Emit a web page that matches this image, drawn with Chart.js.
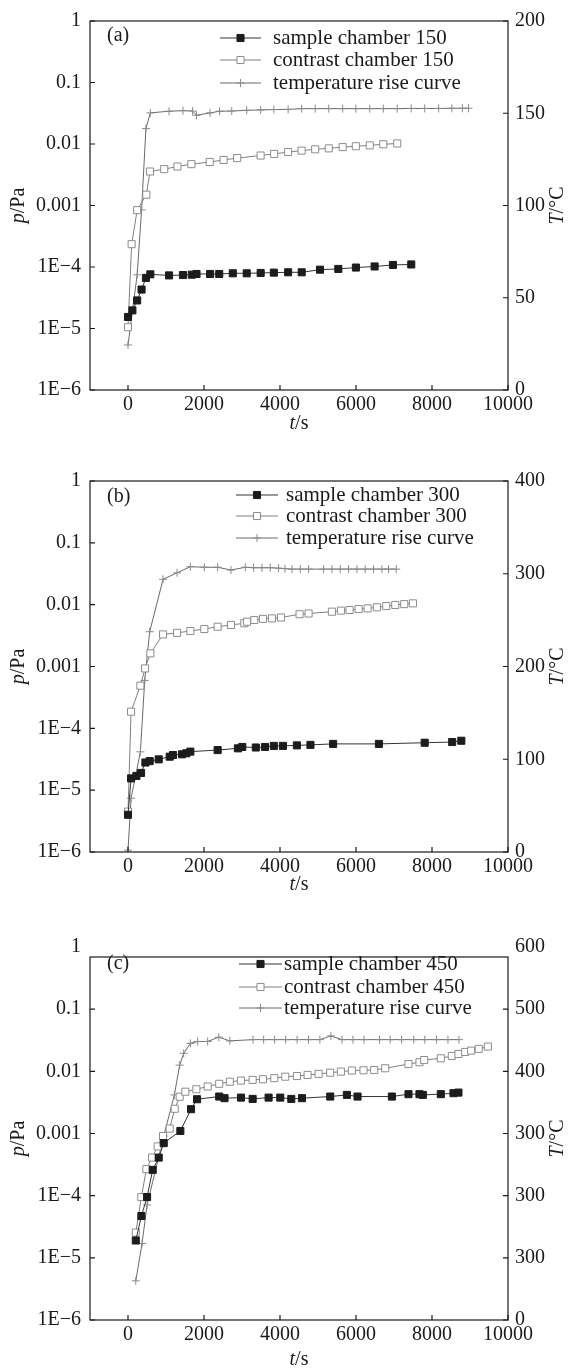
<!DOCTYPE html>
<html>
<head>
<meta charset="utf-8">
<script src="https://cdn.jsdelivr.net/npm/chart.js@4.4.1/dist/chart.umd.min.js"></script>
<style>
  body { margin: 0; background: #fff; }
  #wrap { position: relative; width: 572px; height: 1370px; }
  canvas { position: absolute; left: 0; }
</style>
</head>
<body>
<div id="wrap">
  <canvas id="chartA" width="572" height="440" style="top:0px"></canvas>
  <canvas id="chartB" width="572" height="460" style="top:440px"></canvas>
  <canvas id="chartC" width="572" height="470" style="top:900px"></canvas>
</div>
<script>
// shared axes
const timeTicks = [0, 2000, 4000, 6000, 8000, 10000];
const pressureTicks = [1e-6, 1e-5, 1e-4, 1e-3, 1e-2, 1e-1, 1];
const pressureLabels = ['1E\u22126', '1E\u22125', '1E\u22124', '0.001', '0.01', '0.1', '1'];

// (a) 150
const aNames = ['sample chamber 150', 'contrast chamber 150', 'temperature rise curve'];
const aTempTicks = [0, 50, 100, 150, 200];
const aTempLabels = ['0', '50', '100', '150', '200'];
const aSampleT = [0, 116, 241, 357, 472, 588, 1080, 1446, 1678, 1803, 2160, 2401, 2758, 3124, 3491, 3838, 4214, 4571, 5053, 5535, 5998, 6490, 6972, 7454];
const aSampleP = [1.54e-5, 1.97e-5, 2.86e-5, 4.3e-5, 6.65e-5, 7.6e-5, 7.3e-5, 7.4e-5, 7.5e-5, 7.7e-5, 7.7e-5, 7.7e-5, 7.9e-5, 7.9e-5, 8.0e-5, 8.1e-5, 8.2e-5, 8.2e-5, 9.05e-5, 9.3e-5, 9.8e-5, 1.02e-4, 1.08e-4, 1.1e-4];
const aContrastT = [0, 96, 241, 482, 578, 954, 1301, 1668, 2150, 2516, 2873, 3490, 3846, 4213, 4569, 4926, 5283, 5649, 5996, 6362, 6719, 7085];
const aContrastP = [1.05e-5, 2.35e-4, 8.4e-4, 1.5e-3, 3.57e-3, 3.9e-3, 4.3e-3, 4.7e-3, 5.1e-3, 5.5e-3, 5.9e-3, 6.5e-3, 6.9e-3, 7.4e-3, 7.8e-3, 8.2e-3, 8.5e-3, 8.9e-3, 9.2e-3, 9.5e-3, 9.9e-3, 1.02e-2];
const aTempT = [0, 241, 357, 472, 588, 1080, 1446, 1700, 1803, 2160, 2410, 2730, 3124, 3491, 3838, 4214, 4571, 4926, 5283, 5649, 5996, 6362, 6719, 7085, 7452, 7808, 8175, 8522, 8800, 8960];
const aTempC = [24.4, 62.4, 97.6, 141.7, 150.2, 151.1, 151.4, 151.2, 148.9, 150.2, 151.1, 151.2, 151.6, 151.8, 152, 152.1, 152.5, 152.5, 152.5, 152.5, 152.5, 152.5, 152.5, 152.5, 152.6, 152.6, 152.6, 152.7, 152.7, 152.7];

// (b) 300
const bNames = ['sample chamber 300', 'contrast chamber 300', 'temperature rise curve'];
const bTempTicks = [0, 100, 200, 300, 400];
const bTempLabels = ['0', '100', '200', '300', '400'];
const bSampleT = [0, 81, 221, 344, 458, 571, 808, 1097, 1185, 1422, 1535, 1641, 2359, 2892, 3008, 3364, 3605, 3837, 4078, 4444, 4801, 5398, 6603, 7808, 8531, 8772];
const bSampleP = [4.0e-6, 1.55e-5, 1.7e-5, 1.9e-5, 2.8e-5, 2.95e-5, 3.15e-5, 3.48e-5, 3.7e-5, 3.8e-5, 3.95e-5, 4.2e-5, 4.45e-5, 4.75e-5, 5.0e-5, 4.9e-5, 5.0e-5, 5.2e-5, 5.2e-5, 5.3e-5, 5.4e-5, 5.6e-5, 5.6e-5, 5.85e-5, 6.0e-5, 6.3e-5];
const bContrastT = [0, 81, 326, 449, 589, 922, 1291, 1641, 2009, 2359, 2710, 3061, 3131, 3324, 3552, 3789, 4026, 4515, 4752, 5366, 5603, 5831, 6068, 6305, 6551, 6796, 7033, 7270, 7498];
const bContrastP = [4.5e-6, 1.86e-4, 4.9e-4, 9.3e-4, 1.63e-3, 3.3e-3, 3.5e-3, 3.75e-3, 4.04e-3, 4.4e-3, 4.7e-3, 5.0e-3, 5.3e-3, 5.65e-3, 5.9e-3, 6.0e-3, 6.2e-3, 7.0e-3, 7.2e-3, 7.7e-3, 8.0e-3, 8.2e-3, 8.5e-3, 8.7e-3, 9.06e-3, 9.5e-3, 9.9e-3, 1.02e-2, 1.05e-2];
const bTempT = [0, 81, 326, 440, 571, 922, 1291, 1641, 2009, 2359, 2710, 3087, 3306, 3525, 3744, 3963, 4130, 4314, 4533, 4752, 5147, 5366, 5585, 5804, 6024, 6243, 6462, 6681, 6856, 7058];
const bTempC = [2, 58, 108, 185, 237.5, 294, 301, 307.6, 307, 307, 304, 307, 306.5, 306.5, 306.5, 306, 305.5, 305, 305, 305, 305, 305, 305, 305, 305, 305, 305, 305, 305, 305];

// (c) 450
const cNames = ['sample chamber 450', 'contrast chamber 450', 'temperature rise curve'];
const cTempTicks = [0, 100, 200, 300, 400, 500, 600];
const cTempLabels = ['0', '300', '300', '300', '400', '500', '600'];
const cSampleT = [205, 352, 502, 650, 808, 940, 1378, 1659, 1817, 2400, 2540, 2973, 3280, 3700, 4007, 4297, 4578, 5322, 5761, 6040, 6944, 7381, 7670, 7759, 8232, 8565, 8696];
const cSampleP = [1.9e-5, 4.7e-5, 9.5e-5, 2.6e-4, 4.1e-4, 7.0e-4, 1.1e-3, 2.46e-3, 3.56e-3, 3.93e-3, 3.7e-3, 3.78e-3, 3.6e-3, 3.78e-3, 3.78e-3, 3.6e-3, 3.7e-3, 3.93e-3, 4.18e-3, 3.93e-3, 3.93e-3, 4.29e-3, 4.29e-3, 4.18e-3, 4.29e-3, 4.45e-3, 4.55e-3];
const cContrastT = [205, 352, 484, 633, 781, 922, 1097, 1229, 1360, 1509, 1799, 2096, 2400, 2680, 2973, 3280, 3552, 3850, 4139, 4446, 4726, 5015, 5322, 5603, 5892, 6198, 6479, 6768, 7381, 7670, 7794, 8232, 8522, 8696, 8872, 9030, 9230, 9470];
const cContrastP = [2.55e-5, 9.5e-5, 2.67e-4, 4.1e-4, 6.2e-4, 9.1e-4, 1.2e-3, 2.5e-3, 3.9e-3, 4.7e-3, 5.15e-3, 5.7e-3, 6.3e-3, 6.8e-3, 7.1e-3, 7.27e-3, 7.46e-3, 7.76e-3, 8.2e-3, 8.4e-3, 8.75e-3, 9.1e-3, 9.5e-3, 9.9e-3, 1.03e-2, 1.04e-2, 1.05e-2, 1.12e-2, 1.31e-2, 1.4e-2, 1.52e-2, 1.62e-2, 1.77e-2, 1.9e-2, 2.05e-2, 2.15e-2, 2.3e-2, 2.5e-2];
const cTempT = [205, 370, 502, 940, 1220, 1360, 1466, 1641, 1833, 2096, 2390, 2680, 3290, 3570, 3860, 4150, 4450, 4750, 5050, 5340, 5630, 5920, 6210, 6620, 6900, 7200, 7520, 7810, 8120, 8420, 8710];
const cTempC = [63, 123, 185, 296, 362, 410, 429, 445, 448, 448, 455, 449, 451, 451, 451, 451, 451, 451, 451, 457, 451, 451, 451, 451, 451, 451, 451, 451, 451, 451, 451];

Chart.defaults.font.family = '"Liberation Serif", "Times New Roman", serif';
Chart.defaults.font.size = 20;
Chart.defaults.color = '#1a1a1a';

const zip = (xs, ys) => xs.map((x, i) => ({ x: x, y: ys[i] }));

function richText(ctx, parts, x, y, angle) {
    ctx.save();
    ctx.translate(x, y);
    ctx.rotate(angle);
    const fonts = parts.map(p => (p[1] ? 'italic ' : '') + '20px "Liberation Serif"');
    const widths = parts.map((p, i) => { ctx.font = fonts[i]; return ctx.measureText(p[0]).width; });
    let cx = -widths.reduce((s, w) => s + w, 0) / 2;
    ctx.textBaseline = 'middle';
    ctx.textAlign = 'left';
    ctx.fillStyle = '#1a1a1a';
    parts.forEach((p, i) => { ctx.font = fonts[i]; ctx.fillText(p[0], cx, 0); cx += widths[i]; });
    ctx.restore();
}

// frame, inward ticks, axis titles, inner legend
const decor = {
    id: 'decor',
    afterDraw(chart, args, o) {
        const { ctx, chartArea: a, scales } = chart;
        const top = a.top + o.frameDrop;
        ctx.save();
        ctx.strokeStyle = '#1a1a1a';
        ctx.lineWidth = 1.2;
        ctx.strokeRect(a.left, top, a.right - a.left, a.bottom - top);
        ctx.beginPath();
        scales.x.ticks.forEach(t => {
            const px = scales.x.getPixelForValue(t.value);
            ctx.moveTo(px, a.bottom); ctx.lineTo(px, a.bottom - 5);
        });
        scales.p.ticks.forEach(t => {
            const py = scales.p.getPixelForValue(t.value);
            if (py < top - 0.5) return;
            ctx.moveTo(a.left, py); ctx.lineTo(a.left + 5, py);
        });
        scales.T.ticks.forEach(t => {
            const py = scales.T.getPixelForValue(t.value);
            if (py < top - 0.5) return;
            ctx.moveTo(a.right, py); ctx.lineTo(a.right - 5, py);
        });
        ctx.stroke();

        const midY = (top + a.bottom) / 2;
        richText(ctx, [['t', true], ['/s', false]], (a.left + a.right) / 2, a.bottom + o.xTitleDy, 0);
        richText(ctx, [['p', true], ['/Pa', false]], 19, midY, -Math.PI / 2);
        richText(ctx, [['T', true], ['/\u00B0C', false]], 558, midY, -Math.PI / 2);

        ctx.font = '20px "Liberation Serif"';
        ctx.textBaseline = 'middle';
        ctx.textAlign = 'left';
        ctx.fillStyle = '#1a1a1a';
        ctx.fillText(o.tag, 107, o.tagY);

        chart.data.datasets.forEach((ds, i) => {
            const y = o.legendY[i];
            ctx.strokeStyle = ds.borderColor;
            ctx.lineWidth = 1;
            ctx.beginPath();
            ctx.moveTo(o.legendX[0], y); ctx.lineTo(o.legendX[1], y);
            ctx.stroke();
            ctx.fillStyle = ds.pointBackgroundColor || '#fff';
            ctx.strokeStyle = ds.pointBorderColor;
            Chart.helpers.drawPoint(ctx, { pointStyle: ds.pointStyle, radius: ds.pointRadius, rotation: 0, borderWidth: 1 },
                (o.legendX[0] + o.legendX[1]) / 2, y);
            ctx.fillStyle = '#1a1a1a';
            ctx.font = '21px "Liberation Serif"';
            ctx.fillText(ds.label, o.legendX[2], y);
        });
        ctx.restore();
    }
};

function makeChart(id, names, series, tMax, tTicks, tLabels, lay, deco) {
    const datasets = [
        { label: names[0], data: zip(series[0], series[1]), yAxisID: 'p', borderColor: '#333', borderWidth: 1,
          pointStyle: 'rect', pointRadius: 5, pointBackgroundColor: '#1c1c1c', pointBorderColor: '#1c1c1c', pointBorderWidth: 1 },
        { label: names[1], data: zip(series[2], series[3]), yAxisID: 'p', borderColor: '#808080', borderWidth: 1,
          pointStyle: 'rect', pointRadius: 5, pointBackgroundColor: '#fff', pointBorderColor: '#8c8c8c', pointBorderWidth: 1 },
        { label: names[2], data: zip(series[4], series[5]), yAxisID: 'T', borderColor: '#6a6a6a', borderWidth: 1,
          pointStyle: 'cross', pointRadius: 4, pointBorderColor: '#8a8a8a', pointBorderWidth: 1 }
    ];
    return new Chart(document.getElementById(id), {
        type: 'line',
        data: { datasets: datasets },
        options: {
            responsive: false,
            animation: false,
            devicePixelRatio: 1,
            layout: { padding: { top: lay.top, left: 0, right: 0, bottom: 0 } },
            plugins: { legend: { display: false }, tooltip: { enabled: false }, decor: deco },
            scales: {
                x: {
                    type: 'linear', min: -1000, max: 10000,
                    afterBuildTicks: s => { s.ticks = timeTicks.map(v => ({ value: v })); },
                    afterFit: s => { s.height = lay.xh; },
                    grid: { display: false, drawTicks: false },
                    border: { display: false },
                    ticks: { padding: 3, callback: v => String(v), autoSkip: false, maxRotation: 0 }
                },
                p: {
                    type: 'logarithmic', position: 'left', min: 1e-6, max: 1,
                    afterBuildTicks: s => { s.ticks = pressureTicks.map(v => ({ value: v })); },
                    afterFit: s => { s.width = 90; },
                    grid: { display: false, drawTicks: false },
                    border: { display: false },
                    ticks: { padding: 9, autoSkip: false, callback: (v, i) => pressureLabels[i] }
                },
                T: {
                    type: 'linear', position: 'right', min: 0, max: tMax,
                    afterBuildTicks: s => { s.ticks = tTicks.map(v => ({ value: v })); },
                    afterFit: s => { s.width = 64; },
                    grid: { display: false, drawTicks: false },
                    border: { display: false },
                    ticks: { padding: 7, autoSkip: false, callback: (v, i) => tLabels[i] }
                }
            }
        },
        plugins: [decor]
    });
}

makeChart('chartA', aNames, [aSampleT, aSampleP, aContrastT, aContrastP, aTempT, aTempC], 200, aTempTicks, aTempLabels,
    { top: 18, xh: 50 },
    { tag: '(a)', tagY: 36, legendX: [220, 261, 273], legendY: [38, 60, 83], xTitleDy: 34, frameDrop: 0 });

makeChart('chartB', bNames, [bSampleT, bSampleP, bContrastT, bContrastP, bTempT, bTempC], 400, bTempTicks, bTempLabels,
    { top: 41, xh: 48 },
    { tag: '(b)', tagY: 57, legendX: [236, 278, 286], legendY: [55, 76, 98], xTitleDy: 33, frameDrop: 0 });

makeChart('chartC', cNames, [cSampleT, cSampleP, cContrastT, cContrastP, cTempT, cTempC], 600, cTempTicks, cTempLabels,
    { top: 47, xh: 50 },
    { tag: '(c)', tagY: 64, legendX: [239, 282, 284], legendY: [64, 87, 108], xTitleDy: 40, frameDrop: 10 });
</script>
</body>
</html>
